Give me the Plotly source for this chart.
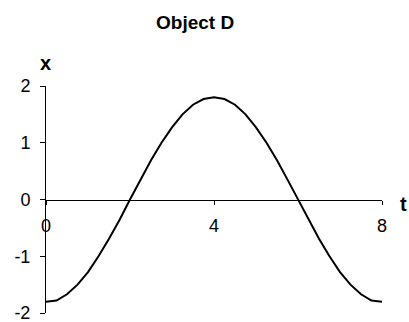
import plotly.graph_objects as go

title_text = "Object D"
x_label = "x"
t_label = "t"

t_vals = [0, 0.25, 0.5, 0.75, 1.0, 1.25, 1.5, 1.75, 2.0, 2.25, 2.5, 2.75, 3.0, 3.25, 3.5, 3.75,
          4.0, 4.25, 4.5, 4.75, 5.0, 5.25, 5.5, 5.75, 6.0, 6.25, 6.5, 6.75, 7.0, 7.25, 7.5, 7.75, 8.0]
x_vals = [-1.80, -1.78, -1.67, -1.50, -1.28, -1.00, -0.69, -0.36, 0.00, 0.35, 0.69, 1.00, 1.27, 1.50, 1.67, 1.77,
          1.80, 1.77, 1.67, 1.50, 1.27, 1.00, 0.69, 0.35, 0.00, -0.36, -0.69, -1.00, -1.28, -1.50, -1.67, -1.78, -1.80]

x_ticks = [0, 4, 8]
x_tick_text = ["0", "4", "8"]
y_ticks = [-2, -1, 0, 1, 2]
y_tick_text = ["-2", "-1", "0", "1", "2"]

FONT = "Arial, Liberation Sans, sans-serif"

fig = go.Figure()
fig.add_trace(go.Scatter(x=t_vals, y=x_vals, mode="lines",
                         line=dict(color="black", width=2), hoverinfo="skip"))

fig.update_layout(
    width=409, height=322,
    margin=dict(l=46, r=27, t=86, b=9, autoexpand=False),
    paper_bgcolor="white", plot_bgcolor="white",
    showlegend=False,
    font=dict(family=FONT, size=18, color="black"),
    xaxis=dict(range=[0, 8], tickvals=x_ticks, ticktext=x_tick_text, ticks="outside", ticklen=4,
               tickcolor="black", showline=True, linecolor="black", linewidth=1,
               showgrid=False, zeroline=False, anchor="free", position=0.5,
               ticklabelstandoff=6, tickfont=dict(size=18), automargin=False,
               ticklabeloverflow="allow"),
    yaxis=dict(range=[-2, 2], tickvals=y_ticks, ticktext=y_tick_text, ticks="outside", ticklen=5,
               tickcolor="black", showline=True, linecolor="black", linewidth=1,
               showgrid=False, zeroline=False, ticklabelstandoff=6,
               tickfont=dict(size=18), automargin=False, ticklabeloverflow="allow"),
    annotations=[
        dict(text="<b>" + title_text + "</b>", xref="paper", yref="paper",
             x=(194.5 - 46) / 336, y=1 + (86 - 22) / 227, xanchor="center", yanchor="middle",
             showarrow=False, font=dict(size=19)),
        dict(text="<b>" + x_label + "</b>", xref="paper", yref="paper",
             x=(45 - 46) / 336, y=1 + (86 - 63) / 227, xanchor="center", yanchor="middle",
             showarrow=False, font=dict(size=20)),
        dict(text="<b>" + t_label + "</b>", xref="paper", yref="paper",
             x=1 + (403 - 382) / 336, y=(313 - 204) / 227, xanchor="center", yanchor="middle",
             showarrow=False, font=dict(size=20)),
    ],
)

fig.write_html("out.html", config={"displayModeBar": False},
               post_script="document.body.style.margin='0';document.body.style.overflow='hidden';")
